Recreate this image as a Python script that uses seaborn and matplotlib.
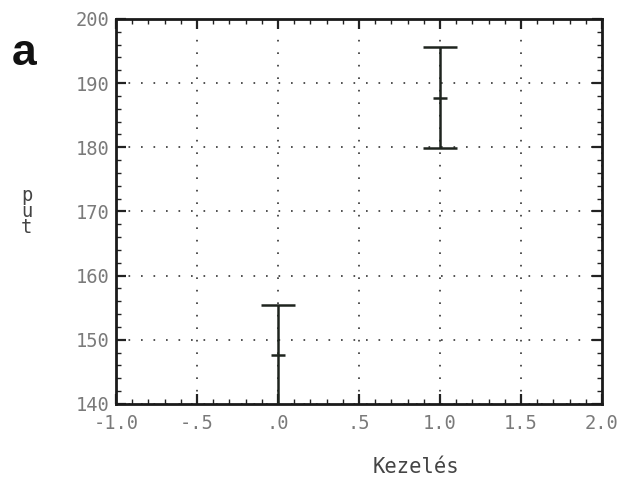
import matplotlib
matplotlib.use("Agg")
import matplotlib.pyplot as plt
from matplotlib.ticker import MultipleLocator, FuncFormatter
import seaborn as sns
import pandas as pd

# Treatment groups and the measured interval for each
kezeles = [0.0, 1.0]
put_mean = [147.6, 187.7]
put_lower = [139.7, 179.9]
put_upper = [155.5, 195.6]

df = pd.DataFrame({"Kezelés": kezeles, "put": put_mean,
                   "lo": put_lower, "hi": put_upper})

sns.set_style("white")
plt.rcParams["font.family"] = ["DejaVu Sans Mono", "DejaVu Sans"]

fig = plt.figure(figsize=(6.25, 4.83), dpi=100)
ax = fig.add_axes([0.1856, 0.1636, 0.7776, 0.7971])

ink = "#1e241e"
# vertical interval lines with caps
ax.errorbar(df["Kezelés"], df["put"],
            yerr=[df["put"] - df["lo"], df["hi"] - df["put"]],
            fmt="none", ecolor=ink, elinewidth=1.8, capsize=12.3,
            capthick=1.8, zorder=3, clip_on=True)
# short tick at the mean
sns.scatterplot(data=df, x="Kezelés", y="put", marker="_", s=105,
                color=ink, linewidth=1.8, ax=ax, zorder=4, legend=False)

ax.set_xlim(-1.0, 2.0)
ax.set_ylim(140, 200)
ax.xaxis.set_major_locator(MultipleLocator(0.5))
ax.xaxis.set_minor_locator(MultipleLocator(0.1))
ax.yaxis.set_major_locator(MultipleLocator(10))
ax.yaxis.set_minor_locator(MultipleLocator(2))


def xfmt(v, pos):
    s = f"{v:.1f}"
    if abs(v) < 1:
        s = s.replace("0.", ".", 1)
    return s


ax.xaxis.set_major_formatter(FuncFormatter(xfmt))
ax.yaxis.set_major_formatter(FuncFormatter(lambda v, p: f"{v:.0f}"))

ax.grid(True, which="major", color="#333333", linestyle=(0, (1, 6.5)),
        linewidth=1.2)
for s in ax.spines.values():
    s.set_color("#1a1a1a")
    s.set_linewidth(2.0)

ax.tick_params(which="both", direction="in", top=True, right=True,
               bottom=True, left=True, color="#222222")
ax.tick_params(which="major", length=7, width=1.6, labelsize=13.5,
               labelcolor="#7a7a7a")
ax.tick_params(axis="x", which="major", pad=7.5)
ax.tick_params(axis="y", which="major", pad=4.5)
ax.tick_params(which="minor", length=3.5, width=1.0)

ax.set_xlabel("")
ax.set_ylabel("")
fig.text(0.666, 0.0207, "Kezelés", fontsize=14.8, color="#444444",
         ha="center", va="baseline")
# vertical axis title, one letter per row
fig.text(0.043, 0.563, "p\nu\nt", fontsize=13.5, color="#444444",
         ha="center", va="center", linespacing=0.8)
fig.text(0.019, 0.8654, "a", fontsize=32, fontweight="bold",
         family="Liberation Sans", color="#111111", ha="left",
         va="baseline")

fig.savefig("out.png", dpi=100)
